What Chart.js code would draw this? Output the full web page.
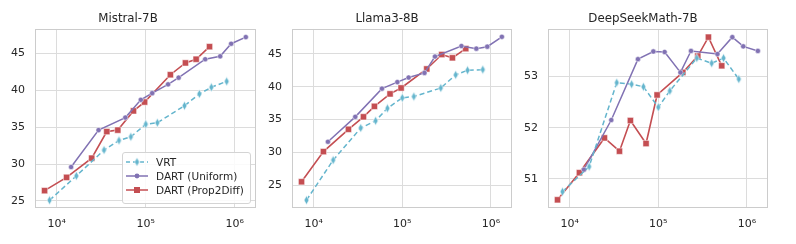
<!DOCTYPE html>
<html>
<head>
<meta charset="utf-8">
<script src="https://cdn.jsdelivr.net/npm/chart.js@4.4.1/dist/chart.umd.min.js"></script>
<style>
  body { margin: 0; background: #fff; width: 796px; height: 244px; overflow: hidden; position: relative; font-family: "DejaVu Sans", sans-serif; }
  canvas { position: absolute; top: 0; }
  #legend { position: absolute; left: 122px; top: 152px; width: 127px; height: 50px; border: 1px solid #d4d4d4; border-radius: 3px; background: rgba(255,255,255,0.85); }
  .row { position: absolute; left: 0; height: 14px; width: 127px; }
  .row canvas { position: absolute; left: 2px; top: 0; }
  .row span { position: absolute; left: 33px; top: 0; line-height: 14px; font-size: 10.5px; color: #262626; white-space: nowrap; }
</style>
</head>
<body>
<canvas id="c0" width="262" height="244" style="left:0px"></canvas>
<canvas id="c1" width="256" height="244" style="left:262px"></canvas>
<canvas id="c2" width="278" height="244" style="left:518px"></canvas>
<div id="legend"></div>
<script>
const seriesNames = ['VRT', 'DART (Uniform)', 'DART (Prop2Diff)'];
const panelTitles = ['Mistral-7B', 'Llama3-8B', 'DeepSeekMath-7B'];

// x positions (number of samples) for each method
const xVrt = [8300, 16600, 34000, 50000, 68000, 100000, 135000, 272000, 400000, 545000, 810000];
const xUniform = [14500, 29500, 59000, 88000, 118000, 178000, 234000, 465000, 685000, 910000, 1330000];
const xProp = [7300, 12900, 24700, 36500, 48500, 72800, 97000, 189000, 279000, 368000, 520000];

// accuracy values
const mistralVrt = [25.1, 28.4, 31.9, 33.2, 33.7, 35.4, 35.6, 37.9, 39.5, 40.4, 41.2];
const mistralUniform = [29.6, 34.6, 36.3, 38.7, 39.6, 40.8, 41.7, 44.2, 44.6, 46.3, 47.2];
const mistralProp = [26.4, 28.2, 30.8, 34.4, 34.6, 37.2, 38.4, 42.1, 43.7, 44.2, 45.9];

const llamaVrt = [22.7, 28.8, 33.7, 34.8, 36.7, 38.3, 38.5, 39.8, 41.8, 42.5, 42.6];
const llamaUniform = [31.6, 35.4, 39.7, 40.7, 41.4, 42.1, 44.6, 46.2, 45.8, 46.1, 47.6];
const llamaProp = [25.5, 30.1, 33.5, 35.4, 37.0, 38.9, 39.8, 42.7, 44.9, 44.4, 45.8];

const deepseekVrt = [50.75, 51.24, 52.88, 52.85, 52.80, 52.40, 52.72, 53.36, 53.26, 53.36, 52.95];
const deepseekUniform = [51.18, 52.15, 53.34, 53.49, 53.48, 53.08, 53.50, 53.44, 53.77, 53.59, 53.50];
const deepseekProp = [50.59, 51.12, 51.80, 51.54, 52.14, 51.69, 52.64, 53.08, 53.40, 53.77, 53.21];

const xTicks = [1e4, 1e5, 1e6];
const xTickLabels = ['10⁴', '10⁵', '10⁶'];
const yTicksMistral = [25, 30, 35, 40, 45];
const yTicksLlama = [25, 30, 35, 40, 45];
const yTicksDeepseek = [51, 52, 53];

const colors = ['#64b5cd', '#8172b3', '#c44e52'];
const textColor = '#262626';

// thin diamond marker for VRT
function thinDiamond(color) {
  const c = document.createElement('canvas');
  c.width = 7; c.height = 10;
  const g = c.getContext('2d');
  g.beginPath();
  g.moveTo(3.5, 0.5); g.lineTo(6, 5); g.lineTo(3.5, 9.5); g.lineTo(1, 5); g.closePath();
  g.fillStyle = color; g.fill();
  g.strokeStyle = '#fff'; g.lineWidth = 0.6; g.stroke();
  return c;
}
const vrtMarker = thinDiamond(colors[0]);

const toPts = (xs, ys) => xs.map((x, i) => ({ x: x, y: ys[i] }));

function makeDatasets(vrt, uni, prop) {
  return [
    { label: seriesNames[0], data: toPts(xVrt, vrt), borderColor: colors[0], backgroundColor: colors[0],
      borderWidth: 1.5, borderDash: [5, 3], pointStyle: vrtMarker, pointRadius: 3 },
    { label: seriesNames[1], data: toPts(xUniform, uni), borderColor: colors[1], backgroundColor: colors[1],
      borderWidth: 1.5, pointStyle: 'circle', pointRadius: 2.6, pointBorderColor: '#fff', pointBorderWidth: 0.5 },
    { label: seriesNames[2], data: toPts(xProp, prop), borderColor: colors[2], backgroundColor: colors[2],
      borderWidth: 1.6, pointStyle: 'rect', pointRadius: 4.4, pointBorderColor: '#fff', pointBorderWidth: 0.5 }
  ];
}

const framePlugin = {
  id: 'frame',
  afterDatasetsDraw(chart) {
    const a = chart.chartArea, ctx = chart.ctx;
    ctx.save();
    ctx.strokeStyle = '#cccccc';
    ctx.lineWidth = 1;
    ctx.strokeRect(Math.round(a.left) + 0.5, Math.round(a.top) + 0.5, Math.round(a.right - a.left) - 1, Math.round(a.bottom - a.top) - 1);
    ctx.restore();
  }
};

const panels = [
  { id: 'c0', yWidth: 35, padRight: 6, yMin: 24.05, yMax: 48.3, yTicks: yTicksMistral, data: [mistralVrt, mistralUniform, mistralProp] },
  { id: 'c1', yWidth: 30, padRight: 6, yMin: 21.5, yMax: 48.8, yTicks: yTicksLlama, data: [llamaVrt, llamaUniform, llamaProp] },
  { id: 'c2', yWidth: 30, padRight: 28, yMin: 50.43, yMax: 53.93, yTicks: yTicksDeepseek, data: [deepseekVrt, deepseekUniform, deepseekProp] }
];

panels.forEach((p, i) => {
  new Chart(document.getElementById(p.id), {
    type: 'line',
    data: { datasets: makeDatasets(p.data[0], p.data[1], p.data[2]) },
    options: {
      responsive: false,
      animation: false,
      devicePixelRatio: 1,
      layout: { padding: { left: 0, right: p.padRight, top: 0, bottom: 0 } },
      plugins: {
        legend: { display: false },
        tooltip: { enabled: false },
        title: {
          display: true, text: panelTitles[i], color: textColor,
          font: { family: 'DejaVu Sans', size: 11.8, weight: 'normal', lineHeight: 1.2 },
          padding: { top: 11.8, bottom: 3 }
        }
      },
      scales: {
        x: {
          type: 'logarithmic', min: 5700, max: 1.73e6,
          afterBuildTicks: (axis) => { axis.ticks = xTicks.map(v => ({ value: v })); },
          afterFit: (axis) => { axis.height = 36; },
          grid: { color: '#dcdcdc', drawTicks: false },
          border: { display: false },
          ticks: {
            padding: 10, color: textColor, maxRotation: 0, autoSkip: false,
            font: { family: 'DejaVu Sans', size: 11 },
            callback: (v) => xTickLabels[xTicks.indexOf(v)]
          }
        },
        y: {
          type: 'linear', min: p.yMin, max: p.yMax,
          afterBuildTicks: (axis) => { axis.ticks = p.yTicks.map(v => ({ value: v })); },
          afterFit: (axis) => { axis.width = p.yWidth; },
          grid: { color: '#dcdcdc', drawTicks: false },
          border: { display: false },
          ticks: { padding: 10, color: textColor, font: { family: 'DejaVu Sans', size: 11 } }
        }
      }
    },
    plugins: [framePlugin]
  });
});

// legend inside the first panel
const legend = document.getElementById('legend');
const legendStyles = [
  { dash: [4, 3], marker: 'diamond' },
  { dash: [], marker: 'circle' },
  { dash: [], marker: 'square' }
];
seriesNames.forEach((name, i) => {
  const row = document.createElement('div');
  row.className = 'row';
  row.style.top = (1.5 + i * 14.3) + 'px';
  const c = document.createElement('canvas');
  c.width = 24; c.height = 14;
  const g = c.getContext('2d');
  g.strokeStyle = colors[i];
  g.lineWidth = 1.5;
  g.setLineDash(legendStyles[i].dash);
  g.beginPath(); g.moveTo(1, 7); g.lineTo(23, 7); g.stroke();
  g.setLineDash([]);
  g.fillStyle = colors[i];
  if (legendStyles[i].marker === 'diamond') {
    g.drawImage(vrtMarker, 12 - 3.5, 7 - 5);
  } else if (legendStyles[i].marker === 'circle') {
    g.beginPath(); g.arc(12, 7, 2.4, 0, Math.PI * 2); g.fill();
  } else {
    g.fillRect(12 - 3, 7 - 3, 6, 6);
  }
  const s = document.createElement('span');
  s.textContent = name;
  row.appendChild(c);
  row.appendChild(s);
  legend.appendChild(row);
});
</script>
</body>
</html>
